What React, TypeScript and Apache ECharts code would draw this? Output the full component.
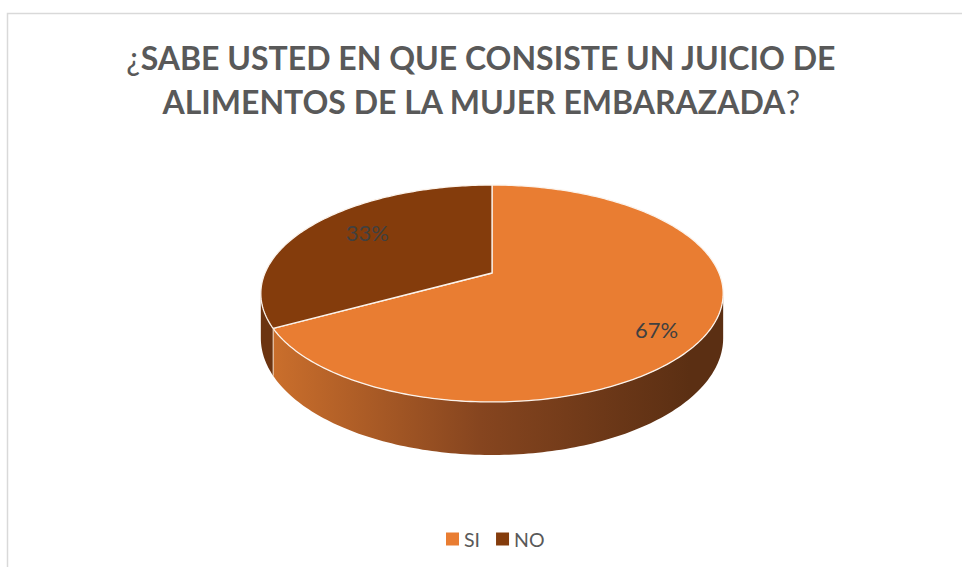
import React, { useEffect, useRef } from 'react';
import * as echarts from 'echarts';

const categories = ['SI', 'NO'];
const values = [67, 33];
const titleLines = ['¿SABE USTED EN QUE CONSISTE UN JUICIO DE', 'ALIMENTOS DE LA MUJER EMBARAZADA?'];

const topColors = ['#E97D32', '#843C0C'];

// 3D pie projection layout (pixels)
const CX = 492;
const CY = 273;
const RA = 227;
const RB = 104.6;
const K = 0.189;
const DEPTH = 43;
const PHI_S = Math.acos(-K);
const PHI_E = 2 * Math.PI - Math.acos(-K);

function proj(r: number, phi: number, drop = 0): number[] {
  const u = r * Math.sin(phi);
  const v = -r * Math.cos(phi);
  const w = 1 - K * v;
  return [CX + (RA * u) / w, CY + (RB * v + drop) / w];
}

function arc(a: number, b: number, drop = 0): number[][] {
  const n = Math.max(2, Math.ceil(((b - a) * 180) / Math.PI));
  const pts: number[][] = [];
  for (let j = 0; j <= n; j++) pts.push(proj(1, a + ((b - a) * j) / n, drop));
  return pts;
}

export default function App() {
  const ref = useRef<HTMLDivElement>(null);
  useEffect(() => {
    document.body.style.margin = '0';
    const chart = echarts.init(ref.current!, null, { renderer: 'svg' });
    const total = values.reduce((s, v) => s + v, 0);

    const sideFills: any[] = [
      new echarts.graphic.LinearGradient(270, 0, 690, 0, [
        { offset: 0, color: '#CB6F2C' },
        { offset: 0.5, color: '#86451F' },
        { offset: 1, color: '#5B2F13' },
      ], true),
      '#6C3411',
    ];

    const series = categories.map((name, i) => ({
      type: 'custom',
      name,
      coordinateSystem: 'none',
      silent: true,
      itemStyle: { color: topColors[i] },
      data: [[values[i]]],
      renderItem: (params: any, api: any) => {
        const val = api.value(0);
        let before = 0;
        for (let j = 0; j < i; j++) before += values[j];
        const start = (before / total) * 2 * Math.PI;
        const end = start + (val / total) * 2 * Math.PI;
        const children: any[] = [];
        const s = Math.max(start, PHI_S);
        const e = Math.min(end, PHI_E);
        if (s < e) {
          const topArc = arc(s, e);
          const botArc = arc(s, e, DEPTH).reverse();
          children.push({
            type: 'polygon',
            shape: { points: topArc.concat(botArc) },
            style: { fill: sideFills[i], stroke: null },
          });
        }
        if (start > PHI_S && start < PHI_E) {
          const p1 = proj(1, start);
          const p2 = proj(1, start, DEPTH);
          children.push({
            type: 'line',
            shape: { x1: p1[0], y1: p1[1], x2: p2[0], y2: p2[1] },
            style: { stroke: 'rgba(255,240,225,0.85)', lineWidth: 1 },
          });
        }
        const topPts = [proj(0, 0)].concat(arc(start, end));
        children.push({
          type: 'polygon',
          shape: { points: topPts },
          style: { fill: topColors[i], stroke: '#FBF3EC', lineWidth: 1.3, lineJoin: 'round' },
        });
        const mid = (start + end) / 2;
        const lx = CX + 20 + 168 * Math.sin(mid);
        const ly = CY + 8 - 96 * Math.cos(mid);
        children.push({
          type: 'text',
          style: {
            text: Math.round((val / total) * 100) + '%',
            x: lx,
            y: ly,
            align: 'center',
            verticalAlign: 'middle',
            fill: '#404040',
            fontSize: 22,
            fontFamily: 'Lato',
          },
        });
        return { type: 'group', children };
      },
    }));

    const full = titleLines.join('\n');
    const richTitle = full.replace(/^¿/, '{q|¿}').replace(/\?$/, '{q|?}');

    chart.setOption({
      animation: false,
      backgroundColor: '#ffffff',
      title: {
        text: richTitle,
        left: 'center',
        top: 35,
        padding: 0,
        textStyle: {
          fontFamily: 'Lato',
          fontWeight: 'bold',
          fontSize: 32,
          color: '#595959',
          lineHeight: 44,
          rich: {
            q: { fontFamily: 'Lato', fontWeight: 'normal', fontSize: 32, color: '#595959', lineHeight: 44 },
          },
        },
      },
      legend: {
        data: categories,
        left: 441,
        top: 524,
        icon: 'rect',
        itemWidth: 13,
        itemHeight: 13,
        itemGap: 16,
        selectedMode: false,
        textStyle: { fontFamily: 'Lato', fontSize: 19.5, color: '#595959' },
      },
      graphic: [
        {
          type: 'rect',
          silent: true,
          shape: { x: 7.5, y: 13.5, width: 1000, height: 600 },
          style: { fill: 'none', stroke: '#D9D9D9', lineWidth: 1.5 },
        },
      ],
      series,
    });
    return () => chart.dispose();
  }, []);
  return <div ref={ref} style={{ width: 962, height: 567 }} />;
}
